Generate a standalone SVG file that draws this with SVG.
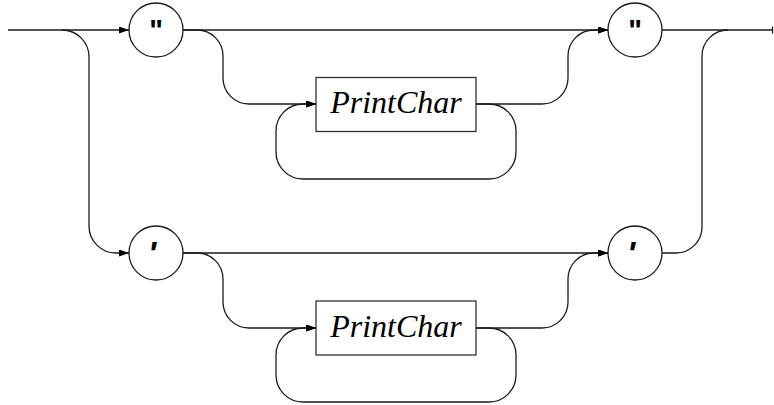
<svg xmlns="http://www.w3.org/2000/svg" width="774" height="405" viewBox="0 0 774 405">
  <style>
    .line { fill: none; stroke: #1a1a1a; stroke-width: 1.3; }
    .term { fill: #fff; stroke: #1a1a1a; stroke-width: 1.3; }
    .nonterm { fill: #fff; stroke: #333; stroke-width: 1.3; }
    .q { font-family: "Liberation Sans", Arial, sans-serif; font-weight: bold; font-size: 29px; text-anchor: middle; fill: #000; }
    .sq { font-family: "Liberation Sans", Arial, sans-serif; font-weight: bold; font-style: italic; font-size: 34px; text-anchor: middle; fill: #000; }
    .name { font-family: "Liberation Serif", "Times New Roman", serif; font-style: italic; font-size: 32px; text-anchor: middle; fill: #000; }
  </style>
  <defs>
    <marker id="arrow" viewBox="0 0 10 7" refX="10" refY="3.5" markerWidth="10" markerHeight="7" markerUnits="userSpaceOnUse" orient="auto">
      <path d="M0,0 L10,3.5 L0,7 Z" fill="#000"/>
    </marker>
  </defs>

  <g id="connectors" class="line">
    <!-- entry and split into the two alternatives -->
    <path d="M8,30 H129" marker-end="url(#arrow)"/>
    <path d="M62,30 A27 27 0 0 1 89,57 V226 A27 27 0 0 0 116,253 H129" marker-end="url(#arrow)"/>

    <!-- double-quoted alternative -->
    <path d="M183,30 H608" marker-end="url(#arrow)"/>
    <path d="M183,30 H197 A26 26 0 0 1 223,56 V78 A26 26 0 0 0 249,104 H316" marker-end="url(#arrow)"/>
    <path d="M476,104 H489 A27 27 0 0 1 516,131 V152 A27 27 0 0 1 489,179 H303 A27 27 0 0 1 276,152 V131 A27 27 0 0 1 303,104 H316" marker-end="url(#arrow)"/>
    <path d="M476,104 H542 A26 26 0 0 0 568,78 V56 A26 26 0 0 1 594,30 H608" marker-end="url(#arrow)"/>

    <!-- single-quoted alternative -->
    <path d="M183,253 H608" marker-end="url(#arrow)"/>
    <path d="M183,253 H197 A26 26 0 0 1 223,279 V302 A26 26 0 0 0 249,328 H316" marker-end="url(#arrow)"/>
    <path d="M476,328 H489 A27 27 0 0 1 516,355 V375 A27 27 0 0 1 489,402 H303 A27 27 0 0 1 276,375 V355 A27 27 0 0 1 303,328 H316" marker-end="url(#arrow)"/>
    <path d="M476,328 H542 A26 26 0 0 0 568,302 V279 A26 26 0 0 1 594,253 H608" marker-end="url(#arrow)"/>

    <!-- join and exit -->
    <path d="M662,30 H772"/>
    <path d="M662,253 H676 A26 26 0 0 0 702,227 V56 A26 26 0 0 1 728,30"/>
    <path d="M772.5,26.5 V33.5"/>
  </g>

  <g id="dquote-open">
    <circle class="term" cx="156" cy="30" r="27"/>
    <text class="q" x="156" y="40">"</text>
  </g>
  <g id="printchar-1">
    <rect class="nonterm" x="316" y="77.5" width="160" height="54"/>
    <text class="name" x="396" y="113">PrintChar</text>
  </g>
  <g id="dquote-close">
    <circle class="term" cx="635" cy="30" r="27"/>
    <text class="q" x="635" y="40">"</text>
  </g>

  <g id="squote-open">
    <circle class="term" cx="156" cy="253" r="27"/>
    <text class="sq" x="152" y="265">'</text>
  </g>
  <g id="printchar-2">
    <rect class="nonterm" x="316" y="301" width="160" height="54"/>
    <text class="name" x="396" y="337">PrintChar</text>
  </g>
  <g id="squote-close">
    <circle class="term" cx="635" cy="253" r="27"/>
    <text class="sq" x="631" y="265">'</text>
  </g>
</svg>
